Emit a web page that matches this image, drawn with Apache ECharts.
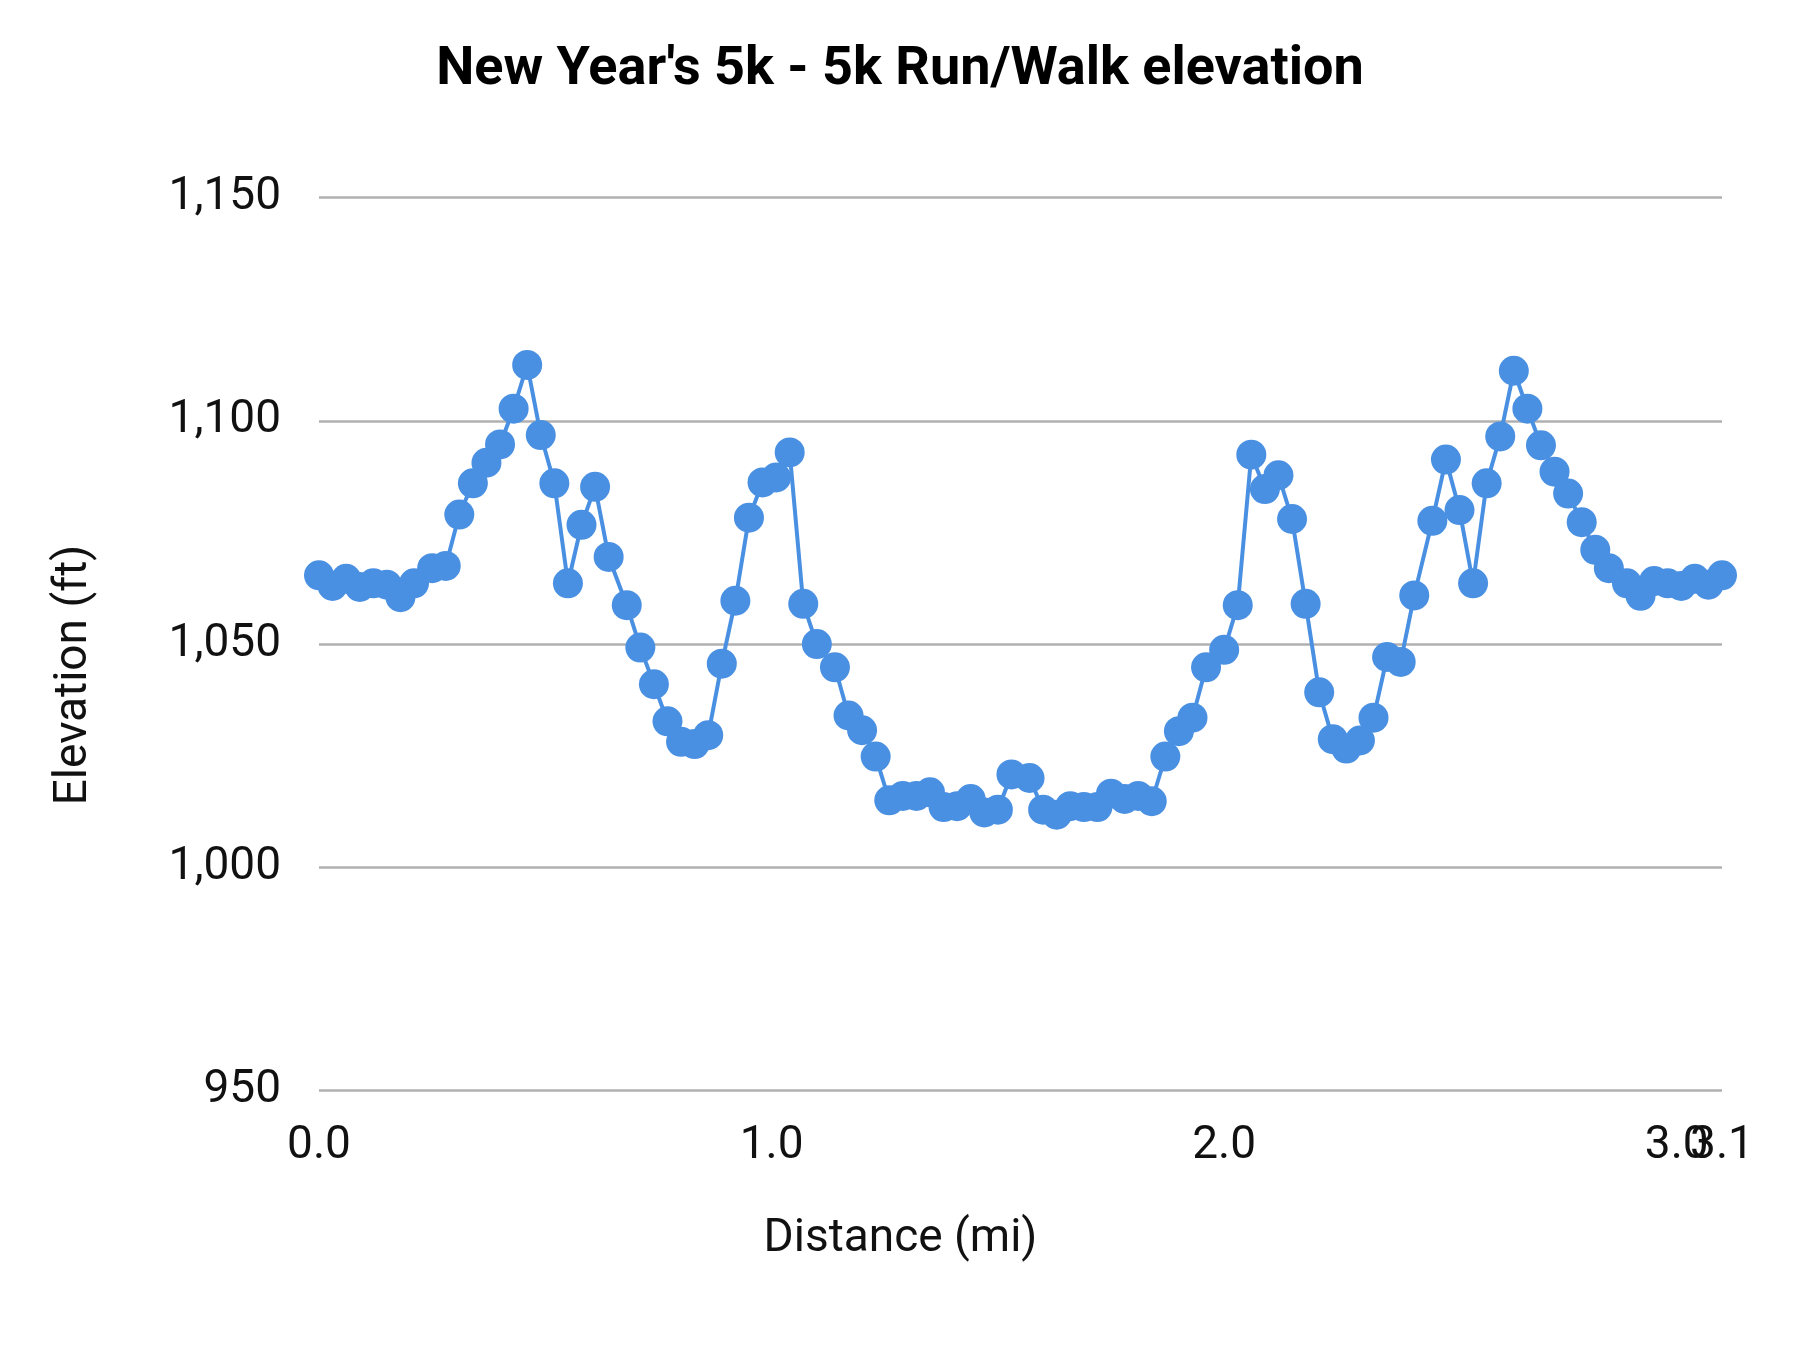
<!DOCTYPE html>
<html>
<head>
<meta charset="utf-8">
<title>New Year's 5k elevation</title>
<script src="https://cdn.jsdelivr.net/npm/echarts@6/dist/echarts.min.js"></script>
<style>
  html, body { margin: 0; padding: 0; background: #fff; }
  #chart { width: 1800px; height: 1350px; }
</style>
</head>
<body>
<div id="chart"></div>
<script>
// distance along the course (mi)
var distance = [
  0.00, 0.03, 0.06, 0.09, 0.12, 0.15, 0.18, 0.21, 0.25, 0.28,
  0.31, 0.34, 0.37, 0.40, 0.43, 0.46, 0.49, 0.52, 0.55, 0.58,
  0.61, 0.64, 0.68, 0.71, 0.74, 0.77, 0.80, 0.83, 0.86, 0.89,
  0.92, 0.95, 0.98, 1.01, 1.04, 1.07, 1.10, 1.14, 1.17, 1.20,
  1.23, 1.26, 1.29, 1.32, 1.35, 1.38, 1.41, 1.44, 1.47, 1.50,
  1.53, 1.57, 1.60, 1.63, 1.66, 1.69, 1.72, 1.75, 1.78, 1.81,
  1.84, 1.87, 1.90, 1.93, 1.96, 2.00, 2.03, 2.06, 2.09, 2.12,
  2.15, 2.18, 2.21, 2.24, 2.27, 2.30, 2.33, 2.36, 2.39, 2.42,
  2.46, 2.49, 2.52, 2.55, 2.58, 2.61, 2.64, 2.67, 2.70, 2.73,
  2.76, 2.79, 2.82, 2.85, 2.89, 2.92, 2.95, 2.98, 3.01, 3.04,
  3.07, 3.10
]
// elevation (ft)
var elevation = [
  1065.4, 1063.0, 1064.6, 1062.8, 1063.6, 1063.3, 1060.5, 1063.6, 1067.0, 1067.5,
  1079.0, 1086.0, 1090.6, 1094.7, 1102.7, 1112.5, 1096.8, 1086.0, 1063.6, 1076.7,
  1085.2, 1069.5, 1058.7, 1049.2, 1041.0, 1032.7, 1028.1, 1027.6, 1029.6, 1045.6,
  1059.7, 1078.3, 1086.2, 1087.3, 1092.9, 1059.0, 1050.0, 1044.8, 1034.0, 1030.7,
  1024.8, 1015.0, 1016.0, 1016.0, 1016.8, 1013.5, 1013.7, 1015.3, 1012.3, 1012.9,
  1020.8, 1020.0, 1012.9, 1011.8, 1013.7, 1013.5, 1013.5, 1016.5, 1015.3, 1016.0,
  1014.8, 1024.8, 1030.5, 1033.5, 1044.8, 1048.7, 1058.7, 1092.4, 1084.7, 1087.8,
  1078.0, 1059.0, 1039.2, 1028.7, 1026.6, 1028.4, 1033.5, 1047.1, 1046.0, 1060.9,
  1077.6, 1091.3, 1080.0, 1063.6, 1086.0, 1096.5, 1111.2, 1102.7, 1094.5, 1088.6,
  1083.7, 1077.3, 1071.1, 1067.0, 1063.6, 1060.8, 1064.1, 1063.6, 1063.0, 1064.6,
  1063.3, 1065.4
]
var xTicks = [0, 1, 2, 3]
var xEndTick = [3.1]
var yTicks = [950, 1000, 1050, 1100, 1150]

var lineColor = '#4a90e2'
var textColor = '#111'
var font = 'Roboto'

var chart = echarts.init(document.getElementById('chart'), null, { renderer: 'canvas' })

// both x axes share the same extent; the second one only carries the
// end-of-course label, so it can overlap "3.0" like in the original
var xLabel = function (values) {
  return {
    customValues: values,
    showMinLabel: true,
    showMaxLabel: true,
    margin: 33,
    fontFamily: font,
    fontSize: 46,
    color: textColor,
    formatter: function (v) { return v.toFixed(1) }
  }
}

var option = {
  animation: false,
  textStyle: { fontFamily: font },
  title: {
    text: "New Year's 5k - 5k Run/Walk elevation",
    left: 'center',
    top: 38,
    textStyle: {
      fontFamily: font,
      fontSize: 54,
      fontWeight: 'bold',
      color: '#000'
    }
  },
  grid: {
    left: 319,
    right: 78,
    top: 197.5,
    bottom: 259.4
  },
  xAxis: [{
    type: 'value',
    min: 0,
    max: xEndTick[0],
    position: 'bottom',
    name: 'Distance (mi)',
    nameLocation: 'middle',
    nameGap: 126,
    nameTextStyle: {
      fontFamily: font,
      fontSize: 46,
      color: textColor,
      padding: [0, 240, 0, 0]
    },
    axisLine: { show: false },
    axisTick: { show: false },
    splitLine: { show: false },
    axisLabel: xLabel(xTicks)
  }, {
    type: 'value',
    min: 0,
    max: xEndTick[0],
    position: 'bottom',
    offset: 0,
    axisLine: { show: false },
    axisTick: { show: false },
    splitLine: { show: false },
    axisLabel: xLabel(xEndTick)
  }],
  yAxis: {
    type: 'value',
    min: yTicks[0],
    max: yTicks[yTicks.length - 1],
    interval: 50,
    name: 'Elevation (ft)',
    nameLocation: 'middle',
    nameGap: 222,
    nameRotate: 90,
    nameTextStyle: {
      fontFamily: font,
      fontSize: 46,
      color: textColor,
      padding: [0, 62, 0, 0]
    },
    axisLine: { show: false },
    axisTick: { show: false },
    splitLine: {
      show: true,
      lineStyle: { color: '#b0b0b0', width: 2.5 }
    },
    axisLabel: {
      margin: 38,
      fontFamily: font,
      fontSize: 46,
      color: textColor,
      formatter: function (v) { return v.toLocaleString('en-US') }
    }
  },
  series: [{
    type: 'line',
    xAxisIndex: 0,
    data: distance.map(function (d, i) { return [d, elevation[i]] }),
    symbol: 'circle',
    symbolSize: 30,
    showAllSymbol: true,
    lineStyle: { color: lineColor, width: 4 },
    itemStyle: { color: lineColor }
  }]
}

chart.setOption(option)
</script>
</body>
</html>
